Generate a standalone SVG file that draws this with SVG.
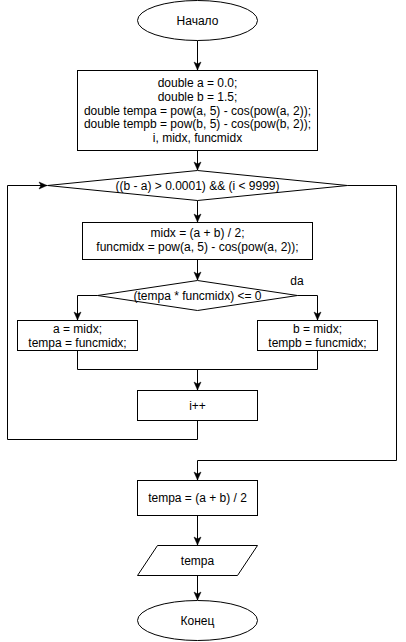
<svg xmlns="http://www.w3.org/2000/svg" width="406" height="642" viewBox="0 0 406 642">
<style>
.s{fill:#fff;stroke:#000;stroke-width:1}
.c{fill:none;stroke:#000;stroke-width:1}
text{font-family:"Liberation Sans",Arial,sans-serif;font-size:12px;fill:#000;text-anchor:middle}
</style>
<defs>
<marker id="a" markerUnits="userSpaceOnUse" markerWidth="9" markerHeight="8" refX="8" refY="3.5" orient="auto" overflow="visible">
<path d="M0,0 L8,3.5 L0,7 L2,3.5 Z" fill="#000" stroke="#000" stroke-width="0.5"/>
</marker>
</defs>
<rect width="406" height="642" fill="#fff"/>
<g id="connectors">
<path class="c" d="M197.5,40.5 V70" marker-end="url(#a)"/>
<path class="c" d="M197.5,150.5 V170" marker-end="url(#a)"/>
<path class="c" d="M197.5,200.5 V222" marker-end="url(#a)"/>
<path class="c" d="M197.5,259.5 V280" marker-end="url(#a)"/>
<path class="c" d="M97.5,295.5 H77.5 V320" marker-end="url(#a)"/>
<path class="c" d="M297.5,295.5 H317.5 V320" marker-end="url(#a)"/>
<path class="c" d="M77.5,350.5 V369.5 H317.5 V350.5"/>
<path class="c" d="M197.5,369.5 V390" marker-end="url(#a)"/>
<path class="c" d="M197.5,420.5 V439.5 H7.5 V185.5 H47" marker-end="url(#a)"/>
<path class="c" d="M347.5,185.5 H396.5 V460.5 H197.5 V480" marker-end="url(#a)"/>
<path class="c" d="M197.5,515.5 V545" marker-end="url(#a)"/>
<path class="c" d="M197.5,575.5 V600" marker-end="url(#a)"/>
<text x="297" y="285">da</text>
</g>
<g id="start">
<ellipse class="s" cx="197.5" cy="20.5" rx="60" ry="20"/>
<text x="197.5" y="24.5">Начало</text>
</g>
<g id="init">
<rect class="s" x="77.5" y="70.5" width="240" height="80"/>
<text x="197.5" y="87">double a = 0.0;</text>
<text x="197.5" y="100.8">double b = 1.5;</text>
<text x="197.5" y="114.5">double tempa = pow(a, 5) - cos(pow(a, 2));</text>
<text x="197.5" y="128.2">double tempb = pow(b, 5) - cos(pow(b, 2));</text>
<text x="197.5" y="142">i, midx, funcmidx</text>
</g>
<g id="loopcond">
<polygon class="s" points="197.5,170.5 347.5,185.5 197.5,200.5 47.5,185.5"/>
<text x="197.5" y="189.5">((b - a) &gt; 0.0001) &amp;&amp; (i &lt; 9999)</text>
</g>
<g id="mid">
<rect class="s" x="82.5" y="222.5" width="230" height="37"/>
<text x="197.5" y="236.5">midx = (a + b) / 2;</text>
<text x="197.5" y="251">funcmidx = pow(a, 5) - cos(pow(a, 2));</text>
</g>
<g id="cond">
<polygon class="s" points="197.5,280.5 297.5,295.5 197.5,310.5 97.5,295.5"/>
<text x="197.5" y="299.5">(tempa * funcmidx) &lt;= 0</text>
</g>
<g id="left">
<rect class="s" x="17.5" y="320.5" width="120" height="30"/>
<text x="77.5" y="333">a = midx;</text>
<text x="77.5" y="347">tempa = funcmidx;</text>
</g>
<g id="right">
<rect class="s" x="257.5" y="320.5" width="120" height="30"/>
<text x="317.5" y="333">b = midx;</text>
<text x="317.5" y="347">tempb = funcmidx;</text>
</g>
<g id="inc">
<rect class="s" x="137.5" y="390.5" width="120" height="30"/>
<text x="197.5" y="409.5">i++</text>
</g>
<g id="result">
<rect class="s" x="137.5" y="480.5" width="120" height="35"/>
<text x="197.5" y="502">tempa = (a + b) / 2</text>
</g>
<g id="output">
<polygon class="s" points="157.5,545.5 257.5,545.5 237.5,575.5 137.5,575.5"/>
<text x="197.5" y="564.5">tempa</text>
</g>
<g id="end">
<ellipse class="s" cx="197.5" cy="620.5" rx="60" ry="20"/>
<text x="197.5" y="624.5">Конец</text>
</g>
</svg>
